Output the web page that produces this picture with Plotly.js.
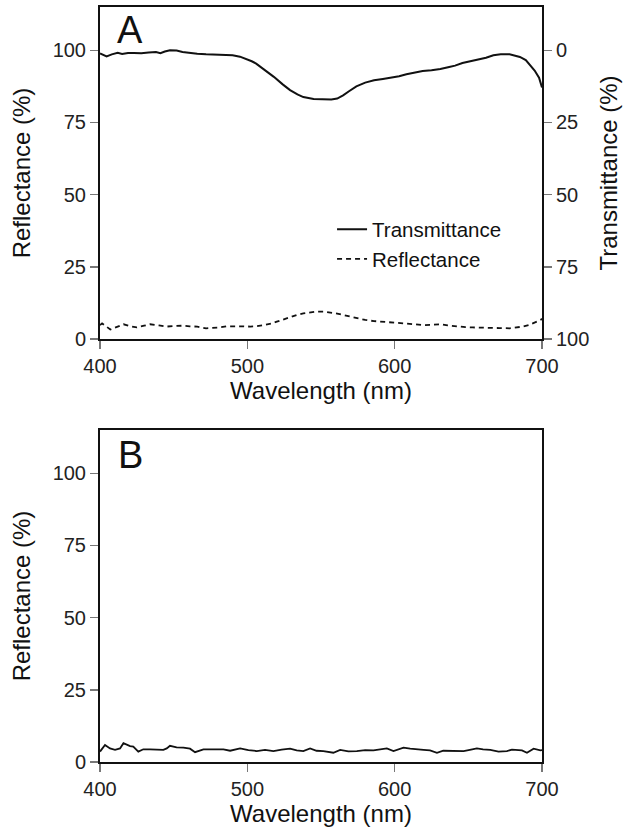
<!DOCTYPE html>
<html>
<head>
<meta charset="utf-8">
<script src="https://cdn.plot.ly/plotly-3.0.1.min.js"></script>
<style>html,body{margin:0;padding:0;background:#fff;}#chart{width:626px;height:831px;}</style>
</head>
<body>
<div id="chart"></div>
<script>
// Panel A – transmittance (right axis, %)
const wlTransA = [400,402,404.5,408,412,415,419,423,428,433,438,441,444,447.5,452,456,461,466,472,478,483,490,495,499,503,506,512,518,524,529,534,538,545,552,557,561,565,569,574,580,586,592,597,603,608,614,619,625,631,637,641,646,652,658,662,667,672,678,682,685,689,692,695,698,700];
const transA = [1.1,1.6,2.1,1.4,0.9,1.3,0.9,0.9,1.0,0.8,0.6,1.0,0.4,0,0.1,0.6,1.0,1.2,1.4,1.5,1.5,1.7,2.2,2.9,3.8,4.6,6.8,9.2,11.8,13.8,15.3,16.2,16.9,17.1,17.0,16.7,15.6,14.2,12.5,11.2,10.4,9.9,9.5,9.0,8.3,7.6,7.2,6.9,6.5,5.8,5.3,4.4,3.7,3.1,2.6,1.7,1.4,1.4,1.8,2.3,3.4,5.2,7.0,9.5,12.9];

// Panel A – reflectance (left axis, %)
const wlReflA = [400,401.4,407,412,416,420,425,430,434,440,445,451,456,461,466,472,477,481,486,490,496,502,506,511,516,520,525,529,534,538,543,547,552,556,561,565,570,574,580,586,592,597,603,608,614,619,625,631,636,642,648,653,659,665,671,678,683,687,691,694,697,699,700];
const reflA = [4.8,5.4,3.3,4.3,5.1,4.5,4.0,4.6,5.1,4.7,4.3,4.5,4.6,4.4,4.3,3.7,3.8,4.0,4.4,4.5,4.4,4.3,4.4,4.8,5.3,6.0,6.9,7.7,8.4,8.9,9.3,9.5,9.5,9.3,8.8,8.3,7.7,7.2,6.6,6.2,6.0,5.9,5.7,5.4,5.1,4.8,5.0,5.1,4.7,4.3,4.1,4.0,4.0,4.0,3.8,3.7,4.0,4.3,4.8,5.4,6.0,6.6,7.0];

// Panel B – reflectance (%)
const wlReflB = [400,403.4,406.8,410.2,413.6,415.9,420.4,422.6,426,429.4,434,438.5,443,445.3,447.5,452,456.6,461.1,464.5,470.2,477,483.8,488.3,495.1,500.7,506.4,512,517.7,523.3,529,533.5,538,542.6,547,551.6,558.4,563,568.6,574.3,580,585.6,590,594.7,599.2,606,610.5,615,619.6,624,628.7,633,637.7,642,646.8,651,655.8,660,664.9,670.5,676.2,679.6,683,686.4,689.8,694.3,698.9,700];
const reflB = [3.6,5.9,4.7,4.2,4.7,6.5,5.5,5.3,3.6,4.4,4.4,4.4,4.2,4.7,5.6,5.1,5.0,4.6,3.4,4.4,4.4,4.4,3.9,4.7,4.1,3.8,4.2,3.8,4.3,4.6,4.0,3.8,4.7,3.9,3.8,3.2,4.2,3.7,3.8,4.1,4.0,4.3,4.7,3.8,5.0,4.6,4.3,4.2,4.0,3.2,3.9,3.8,3.8,3.8,4.2,4.7,4.4,4.2,3.6,3.8,4.3,4.2,4.0,3.2,4.6,4.0,4.1];

const yTicks = [0,25,50,75,100];
const xTicks = [400,500,600,700];

const FONT = 'Liberation Sans, Arial, sans-serif';
const tickFont = {family: FONT, size: 20, color: '#222'};
const titleFont = {family: FONT, size: 24, color: '#111'};

const traces = [
  {x: wlTransA, y: transA, xaxis: 'x', yaxis: 'y2', mode: 'lines', name: 'Transmittance',
   line: {color: '#111', width: 2}},
  {x: wlReflA, y: reflA, xaxis: 'x', yaxis: 'y', mode: 'lines', name: 'Reflectance',
   line: {color: '#111', width: 1.8, dash: '5px,4px'}},
  {x: wlReflB, y: reflB, xaxis: 'x2', yaxis: 'y3', mode: 'lines', name: 'B', showlegend: false,
   line: {color: '#111', width: 1.8}}
];

const axBase = {
  showline: true, linecolor: '#111', linewidth: 2, mirror: true,
  ticks: 'outside', ticklen: 8, tickwidth: 1.5, tickcolor: '#777',
  showgrid: false, zeroline: false, tickfont: tickFont
};

const domA = [423/755, 1];
const domB = [0, 332/755];

const layout = {
  width: 626, height: 831,
  margin: {l: 100, r: 84, t: 7, b: 69},
  paper_bgcolor: '#fff', plot_bgcolor: '#fff',
  font: {family: FONT, color: '#222'},
  showlegend: true,
  legend: {x: 0.525, y: 0.732, xanchor: 'left', yanchor: 'top', bgcolor: 'rgba(0,0,0,0)',
           font: {family: FONT, size: 20.5, color: '#111'}, itemwidth: 30, tracegroupgap: 0},
  xaxis: Object.assign({}, axBase, {domain: [0,1], anchor: 'y', range: [400,700], tickvals: xTicks,
         title: {text: 'Wavelength (nm)', font: titleFont, standoff: 0}}),
  yaxis: Object.assign({}, axBase, {domain: domA, anchor: 'x', range: [0,115], tickvals: yTicks,
         title: {text: 'Reflectance (%)', font: titleFont, standoff: 15}}),
  yaxis2: Object.assign({}, axBase, {domain: domA, anchor: 'x', overlaying: 'y', side: 'right', mirror: false,
         range: [100,-15], tickvals: yTicks,
         title: {text: 'Transmittance (%)', font: titleFont, standoff: 12}}),
  xaxis2: Object.assign({}, axBase, {domain: [0,1], anchor: 'y3', range: [400,700], tickvals: xTicks,
         title: {text: 'Wavelength (nm)', font: titleFont, standoff: 0}}),
  yaxis3: Object.assign({}, axBase, {domain: domB, anchor: 'x2', range: [0,115], tickvals: yTicks,
         title: {text: 'Reflectance (%)', font: titleFont, standoff: 15}}),
  annotations: [
    {text: 'A', xref: 'paper', yref: 'paper', x: 0.068, y: 0.969, showarrow: false,
     xanchor: 'center', yanchor: 'middle', font: {family: FONT, size: 38, color: '#111'}},
    {text: 'B', xref: 'paper', yref: 'paper', x: 0.068, y: 0.407, showarrow: false,
     xanchor: 'center', yanchor: 'middle', font: {family: FONT, size: 38, color: '#111'}}
  ]
};

Plotly.newPlot('chart', traces, layout, {displayModeBar: false, staticPlot: true});
</script>
</body>
</html>
